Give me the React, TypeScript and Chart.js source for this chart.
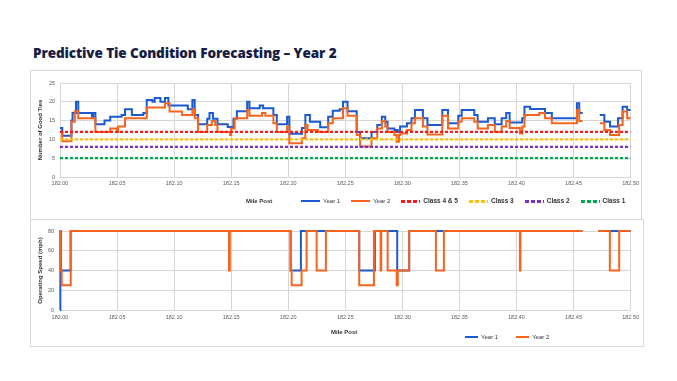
import React, { useEffect, useRef } from 'react';
import { Chart, registerables } from 'chart.js';

Chart.register(...registerables);

// ---------- Data ----------
const mileMin = 182.0;
const mileMax = 182.5;
const mileStep = 0.05;

// Number of good ties (step change points)
const year1TieMiles = [182.000, 182.002, 182.010, 182.011, 182.014, 182.016, 182.028, 182.029, 182.031, 182.039, 182.044, 182.054, 182.057, 182.063, 182.073, 182.076, 182.081, 182.083, 182.088, 182.092, 182.095, 182.112, 182.116, 182.118, 182.121, 182.129, 182.131, 182.134, 182.138, 182.147, 182.152, 182.155, 182.164, 182.166, 182.175, 182.178, 182.187, 182.190, 182.199, 182.201, 182.212, 182.215, 182.219, 182.228, 182.235, 182.239, 182.245, 182.248, 182.252, 182.260, 182.263, 182.273, 182.278, 182.282, 182.285, 182.287, 182.293, 182.296, 182.298, 182.304, 182.308, 182.311, 182.318, 182.322, 182.335, 182.340, 182.349, 182.352, 182.363, 182.366, 182.375, 182.381, 182.387, 182.391, 182.394, 182.405, 182.407, 182.412, 182.425, 182.431, 182.453, 182.455, 182.458, 182.465, 182.473, 182.477, 182.482, 182.489, 182.493, 182.497, 182.500];
const year1Ties = [13, 11, 15, 17, 20, 17, 16, 17, 14, 15, 16, 16.5, 18, 16.5, 17, 20.5, 20, 21, 20, 21, 19, 18, 20.5, 16.5, 14, 15.5, 17, 15.5, 14, 13.3, 15.5, 17.5, 20, 18.3, 19, 18.3, 16.5, 14, 16, 11.5, 13, 16.5, 14.7, 13.2, 16, 17.6, 18, 20, 17.5, 12, 10.3, 12, 13.8, 16, 14.7, 12.9, 12.5, 12, 13.4, 14.3, 15.6, 17.8, 15.6, 13.8, 17.8, 14.3, 16.3, 17.8, 16.5, 14.7, 15.6, 14, 15.6, 17, 14.5, 15.6, 18.7, 18.1, 17, 15.6, 19.6, 17, 17, null, 16.5, 14.7, 13.4, 15.6, 18.7, 17.8, 17.8];

const year2TieMiles = [182.000, 182.002, 182.010, 182.013, 182.016, 182.031, 182.044, 182.050, 182.051, 182.057, 182.076, 182.092, 182.096, 182.107, 182.116, 182.118, 182.121, 182.129, 182.133, 182.136, 182.138, 182.149, 182.150, 182.153, 182.164, 182.166, 182.177, 182.180, 182.187, 182.190, 182.199, 182.201, 182.212, 182.215, 182.217, 182.226, 182.235, 182.239, 182.248, 182.252, 182.260, 182.263, 182.273, 182.278, 182.282, 182.285, 182.287, 182.293, 182.295, 182.297, 182.298, 182.304, 182.308, 182.311, 182.318, 182.322, 182.335, 182.340, 182.349, 182.352, 182.363, 182.366, 182.375, 182.381, 182.387, 182.391, 182.394, 182.403, 182.405, 182.407, 182.420, 182.425, 182.431, 182.453, 182.455, 182.458, 182.465, 182.473, 182.477, 182.482, 182.490, 182.493, 182.497, 182.500];
const year2Ties = [12, 9.5, 14.7, 17.5, 15.6, 12, 12.9, 12, 13.4, 15.6, 18.5, 19.6, 17.4, 16.5, 18, 15.6, 12, 13.8, 14.9, 13.8, 12, 11.2, 12.9, 15.6, 17.8, 16.3, 17, 16.3, 14.3, 12, 13.4, 9, 10.3, 13.8, 12.5, 12, 14.3, 15.6, 18.3, 16.3, 11.2, 8.1, 10.3, 12.9, 14.9, 13.4, 12, 11.2, 9.4, 11.2, 11.6, 12.5, 14.3, 15.6, 13.4, 11.3, 16.3, 12.9, 14.7, 15.6, 14.7, 12.9, 13.8, 12, 13.4, 14.9, 13, 11.6, 13.4, 16.5, 17, 15.6, 14.3, 17.8, 14.9, 14.9, null, 14.3, 12.5, 11.2, 13.8, 17.4, 15.6, 15.6];

const classLabels = ['Class 4 & 5', 'Class 3', 'Class 2', 'Class 1'];
const classLevels = [12, 10, 8, 5];
const classColors = ['#ff1a1a', '#ffc000', '#7a2fc8', '#00a850'];

// Operating speed (mph), step change points
const year1SpeedMiles = [182.000, 182.0003, 182.0008, 182.0093, 182.2021, 182.2111, 182.2622, 182.2759, 182.2955, 182.3060, 182.4579, 182.465, 182.4716, 182.500];
const year1Speed = [0, 80, 40, 80, 40, 80, 40, 80, 40, 80, 80, null, 80, 80];

const year2SpeedMiles = [182.000, 182.0005, 182.0015, 182.0094, 182.1481, 182.1488, 182.2021, 182.2030, 182.2117, 182.2161, 182.2249, 182.2330, 182.2622, 182.2751, 182.2809, 182.2815, 182.2871, 182.2950, 182.2960, 182.3060, 182.3294, 182.3364, 182.4030, 182.4035, 182.4579, 182.465, 182.4716, 182.4818, 182.4900, 182.500];
const year2Speed = [80, 40, 25, 80, 40, 80, 40, 25, 40, 80, 40, 80, 25, 80, 40, 80, 40, 25, 40, 80, 40, 80, 40, 80, 80, null, 80, 40, 80, 80];

const seriesLabels = ['Year 1', 'Year 2'];
const year1Color = '#1a5ad2';
const year2Color = '#f8641c';

// ---------- helpers ----------
const toPoints = (xs: number[], ys: (number | null)[]) => xs.map((x, i) => ({ x, y: ys[i] }));
const FONT = "'Liberation Sans', Arial, sans-serif";

function makeOptions(cfg: {
  yMax: number; yStep: number; yTitle: string; xHeight: number; pad: any; xTickPad: number; yTickPad: number;
}) {
  return {
    responsive: false,
    animation: false as const,
    events: [] as any[],
    layout: { padding: cfg.pad },
    plugins: { legend: { display: false }, tooltip: { enabled: false } },
    elements: { point: { radius: 0 }, line: { tension: 0 } },
    scales: {
      x: {
        type: 'linear' as const,
        min: mileMin,
        max: mileMax,
        ticks: {
          stepSize: mileStep,
          autoSkip: false,
          maxRotation: 0,
          padding: cfg.xTickPad,
          color: '#5a5a5a',
          font: { size: 5.5, family: FONT },
          callback: (v: any) => Number(v).toFixed(2),
        },
        grid: { color: '#d6d6d6', lineWidth: 1, drawTicks: false },
        border: { display: false },
        afterFit: (s: any) => { s.height = cfg.xHeight; },
      },
      y: {
        min: 0,
        max: cfg.yMax,
        ticks: {
          stepSize: cfg.yStep,
          padding: cfg.yTickPad,
          color: '#5a5a5a',
          font: { size: 5.5, family: FONT },
        },
        grid: { color: '#d6d6d6', lineWidth: 1, drawTicks: false },
        border: { display: false },
        title: {
          display: true,
          text: cfg.yTitle,
          color: '#333333',
          font: { size: 6, weight: 'bold' as const, family: FONT },
          padding: { top: 7, bottom: 0 },
        },
        afterFit: (s: any) => { s.width = 30; },
      },
    },
  };
}

function TieChart() {
  const ref = useRef<HTMLCanvasElement>(null);
  useEffect(() => {
    if (!ref.current) return;
    const classSets = classLabels.map((label, i) => ({
      label,
      data: [{ x: mileMin, y: classLevels[i] }, { x: mileMax, y: classLevels[i] }],
      borderColor: classColors[i],
      borderWidth: 2.2,
      borderDash: [3, 2],
      pointRadius: 0,
      order: 0,
    }));
    const chart = new Chart(ref.current, {
      type: 'line',
      data: {
        datasets: [
          { label: seriesLabels[0], data: toPoints(year1TieMiles, year1Ties), borderColor: year1Color, borderWidth: 2, stepped: true, pointRadius: 0, order: 2, clip: 4 },
          { label: seriesLabels[1], data: toPoints(year2TieMiles, year2Ties), borderColor: year2Color, borderWidth: 2, stepped: true, pointRadius: 0, order: 1, clip: 4 },
          ...classSets,
        ],
      },
      options: makeOptions({
        yMax: 25, yStep: 5, yTitle: 'Number of Good Ties', xHeight: 40,
        pad: { top: 12, right: 11, bottom: 0, left: 0 }, xTickPad: 3, yTickPad: 5,
      }) as any,
    });
    return () => chart.destroy();
  }, []);
  return <canvas ref={ref} width={612} height={146} style={{ position: 'absolute', left: 30, top: 71, width: 612, height: 146 }} />;
}

function SpeedChart() {
  const ref = useRef<HTMLCanvasElement>(null);
  useEffect(() => {
    if (!ref.current) return;
    const chart = new Chart(ref.current, {
      type: 'line',
      data: {
        datasets: [
          { label: seriesLabels[0], data: toPoints(year1SpeedMiles, year1Speed), borderColor: year1Color, borderWidth: 2, stepped: true, pointRadius: 0, order: 2, clip: 4 },
          { label: seriesLabels[1], data: toPoints(year2SpeedMiles, year2Speed), borderColor: year2Color, borderWidth: 2, stepped: true, pointRadius: 0, order: 1, clip: 4 },
        ],
      },
      options: makeOptions({
        yMax: 80, yStep: 20, yTitle: 'Operating Speed (mph)', xHeight: 37,
        pad: { top: 12, right: 12, bottom: 0, left: 0 }, xTickPad: 4, yTickPad: 6,
      }) as any,
    });
    return () => chart.destroy();
  }, []);
  return <canvas ref={ref} width={613} height={128} style={{ position: 'absolute', left: 30, top: 219, width: 613, height: 128 }} />;
}

type LegendItem = { label: string; color: string; dashed: boolean; bold: boolean };

function Legend({ items, left, top, lineW, gap }: { items: LegendItem[]; left: number; top: number; lineW: number; gap: number }) {
  return (
    <div style={{ position: 'absolute', left, top, display: 'flex', alignItems: 'center', gap, height: 10 }}>
      {items.map((it) => (
        <div key={it.label} style={{ display: 'flex', alignItems: 'center', gap: 3 }}>
          <div
            style={{
              width: lineW,
              height: it.dashed ? 3 : 2,
              background: it.dashed
                ? `repeating-linear-gradient(to right, ${it.color} 0px, ${it.color} 4px, transparent 4px, transparent 6px)`
                : it.color,
            }}
          />
          <span style={{ fontFamily: FONT, fontSize: it.bold ? 6.5 : 6, fontWeight: it.bold ? 700 : 400, color: '#333', whiteSpace: 'nowrap', lineHeight: '10px' }}>
            {it.label}
          </span>
        </div>
      ))}
    </div>
  );
}

export default function App() {
  const topItems: LegendItem[] = [
    { label: seriesLabels[0], color: year1Color, dashed: false, bold: false },
    { label: seriesLabels[1], color: year2Color, dashed: false, bold: false },
    ...classLabels.map((l, i) => ({ label: l, color: classColors[i], dashed: true, bold: true })),
  ];
  const bottomItems: LegendItem[] = [
    { label: seriesLabels[0], color: year1Color, dashed: false, bold: false },
    { label: seriesLabels[1], color: year2Color, dashed: false, bold: false },
  ];
  return (
    <div style={{ position: 'fixed', left: 0, top: 0, width: 677, height: 381, background: '#ffffff', overflow: 'hidden' }}>
      <div style={{ position: 'absolute', left: 33, top: 44, fontFamily: "'Open Sans', sans-serif", fontWeight: 800, fontSize: 13.5, letterSpacing: -0.1, lineHeight: '18px', color: '#161d45', whiteSpace: 'nowrap' }}>
        Predictive Tie Condition Forecasting – Year 2
      </div>
      <div style={{ position: 'absolute', left: 30, top: 70, width: 612, height: 150, border: '1px solid #d9d9d9', boxSizing: 'border-box' }} />
      <div style={{ position: 'absolute', left: 30, top: 219, width: 614, height: 128, border: '1px solid #d9d9d9', boxSizing: 'border-box' }} />
      <TieChart />
      <SpeedChart />
      <div style={{ position: 'absolute', left: 246, top: 196, fontFamily: FONT, fontSize: 6, fontWeight: 700, color: '#333', lineHeight: '10px' }}>Mile Post</div>
      <Legend items={topItems} left={301} top={196} lineW={19} gap={11} />
      <div style={{ position: 'absolute', left: 331, top: 327, fontFamily: FONT, fontSize: 6, fontWeight: 700, color: '#333', lineHeight: '10px' }}>Mile Post</div>
      <Legend items={bottomItems} left={465} top={332} lineW={13} gap={18} />
    </div>
  );
}
